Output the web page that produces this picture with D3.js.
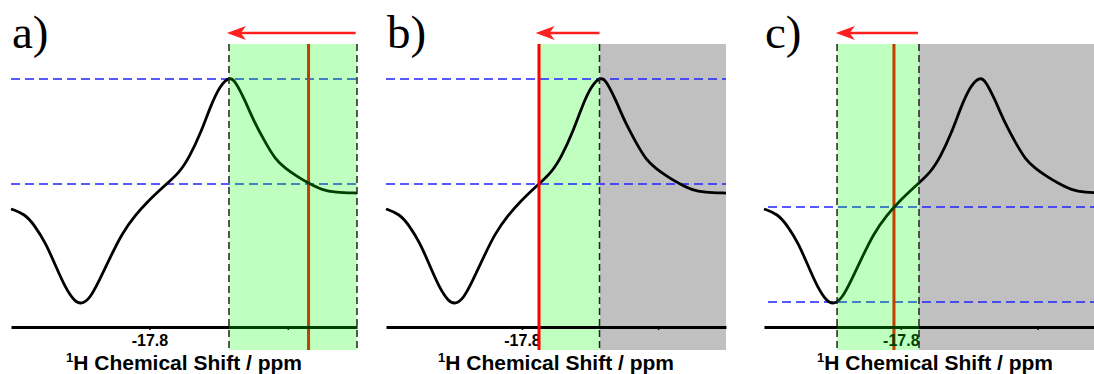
<!DOCTYPE html>
<html>
<head>
<meta charset="utf-8">
<script src="https://cdn.jsdelivr.net/npm/d3@7"></script>
<style>
  html, body { margin: 0; padding: 0; background: #fff; }
  svg { display: block; }
</style>
</head>
<body>
<div id="chart"></div>
<script>
// spectrum trace
const ppm = [-17.700, -17.710, -17.717, -17.725, -17.732, -17.739, -17.746, -17.751, -17.757, -17.764,
  -17.772, -17.780, -17.790, -17.798, -17.810, -17.822, -17.829, -17.837, -17.844, -17.851,
  -17.858, -17.862, -17.869, -17.876, -17.884, -17.891, -17.898, -17.907, -17.915, -17.925,
  -17.934, -17.950]
const intensity = [47.6, 45.6, 41.0, 33.9, 25.0, 16.1, 10.2, 9.2, 11.4, 19.0,
  28.4, 37.6, 45.2, 50.2, 56.5, 62.4, 68.7, 78.1, 88.8, 97.4,
  100.9, 99.2, 91.5, 82.3, 74.2, 67.6, 64.1, 60.6, 58.0, 55.2,
  54.3, 54.0]

const panelLabels = ["a)", "b)", "c)"]
const tickValues = [-17.8, -17.9]
const axisTitle = "Chemical Shift / ppm"

// sliding window per panel (green), excluded region (grey), cursor line, levels
const windowStart = [-17.8575, -17.8125, -17.7534]
const windowEnd = [-17.950, -17.857, -17.8133]
const greyStart = [null, -17.857, -17.8133]
const cursorPpm = [-17.915, -17.8125, -17.795]
const levelHigh = [100, 100, 48.4]
const levelLow = [57.7, 57.7, 10.1]
const arrowFrom = [-17.949, -17.857, -17.8126]
const arrowTo = [-17.856, -17.810, -17.7525]
const edgeLines = [[-17.8575, -17.950], [-17.857], [-17.7534, -17.8133]]

const width = 1094, height = 374
const panelX = [[11, 357], [386, 726], [764, 1106]]
const overlayMode = [true, false, true]
const axisY = 327, shadeTop = 44, shadeBottom = 350, arrowY = 33

const svg = d3.select("#chart").append("svg")
  .attr("width", width).attr("height", height)

const y = d3.scaleLinear().domain([0, 100]).range([axisY, 79])
const xDomain = [-17.70, -17.95]

panelLabels.forEach((label, i) => {
  const x = d3.scaleLinear().domain(xDomain).range(panelX[i])
  const g = svg.append("g")
  const xEnd = panelX[i][1]

  // grey region always sits under the trace
  if (greyStart[i] !== null) {
    g.append("rect")
      .attr("x", x(greyStart[i])).attr("y", shadeTop)
      .attr("width", xEnd - x(greyStart[i]))
      .attr("height", shadeBottom - shadeTop)
      .attr("fill", "#c0c0c0")
  }

  const drawGreen = (over) => {
    g.append("rect")
      .attr("x", x(windowStart[i])).attr("y", shadeTop)
      .attr("width", x(windowEnd[i]) - x(windowStart[i]))
      .attr("height", shadeBottom - shadeTop)
      .attr("fill", over ? "rgba(0,255,0,0.25)" : "#c0ffc0")
  }

  if (!overlayMode[i]) drawGreen(false)

  // blue level lines
  g.selectAll(".level")
    .data([levelHigh[i], levelLow[i]])
    .join("line")
    .attr("x1", panelX[i][0] + (i === 2 ? 4 : 0)).attr("x2", xEnd)
    .attr("y1", d => y(d)).attr("y2", d => y(d))
    .attr("stroke", "#2222ff")
    .attr("stroke-width", 1.5)
    .attr("stroke-dasharray", "9,5")

  const cursor = () => g.append("line")
    .attr("x1", x(cursorPpm[i])).attr("x2", x(cursorPpm[i]))
    .attr("y1", shadeTop).attr("y2", shadeBottom)
    .attr("stroke", "#ff0000")
    .attr("stroke-width", 3)

  if (overlayMode[i]) cursor()

  const line = d3.line()
    .x((d, k) => x(ppm[k]))
    .y(d => y(d))
    .curve(d3.curveBasis)

  g.append("path")
    .datum(intensity)
    .attr("d", line)
    .attr("fill", "none")
    .attr("stroke", "#000")
    .attr("stroke-width", 2.8)
    .attr("stroke-linejoin", "round")

  const axis = g.append("g")
    .attr("transform", `translate(0,${axisY})`)
    .call(d3.axisBottom(x).tickValues(tickValues).tickSize(3).tickSizeOuter(0).tickPadding(5)
      .tickFormat(d => d === -17.8 ? "-17.8" : ""))
  axis.select(".domain").attr("stroke", "#000").attr("stroke-width", 3)
  axis.selectAll(".tick line").attr("stroke", "#000").attr("stroke-width", 1.5)
  axis.selectAll(".tick text")
    .attr("font-family", "'Liberation Sans', Arial, sans-serif")
    .attr("font-weight", "bold")
    .attr("font-size", 16)
    .attr("fill", "#000")

  if (overlayMode[i]) drawGreen(true)
  else cursor()

  // dashed window edges
  g.selectAll(".edge")
    .data(edgeLines[i])
    .join("line")
    .attr("x1", d => x(d)).attr("x2", d => x(d))
    .attr("y1", shadeTop).attr("y2", shadeBottom)
    .attr("stroke", "#222")
    .attr("stroke-width", 1.5)
    .attr("stroke-dasharray", "7,4")

  // arrow showing scan direction
  const tip = x(arrowTo[i]), tail = x(arrowFrom[i])
  g.append("line")
    .attr("x1", tip + 12).attr("x2", tail)
    .attr("y1", arrowY).attr("y2", arrowY)
    .attr("stroke", "#ff2020")
    .attr("stroke-width", 2.5)
  g.append("path")
    .attr("d", `M${tip},${arrowY} L${tip + 19},${arrowY - 7} L${tip + 14},${arrowY} L${tip + 19},${arrowY + 7} Z`)
    .attr("fill", "#ff2020")

  // panel label
  g.append("text")
    .attr("x", panelX[i][0] + 1)
    .attr("y", 48)
    .attr("font-family", "'Liberation Serif', 'DejaVu Serif', serif")
    .attr("font-size", 47)
    .attr("fill", "#000")
    .text(label)

  // axis title
  const title = g.append("text")
    .attr("x", (panelX[i][0] + panelX[i][1]) / 2)
    .attr("y", 370)
    .attr("text-anchor", "middle")
    .attr("font-family", "'Liberation Sans', Arial, sans-serif")
    .attr("font-weight", "bold")
    .attr("font-size", 21)
    .attr("fill", "#000")
  title.append("tspan").attr("font-size", 13).attr("dy", -8).text("1")
  title.append("tspan").attr("dy", 8).text("H " + axisTitle)
})
</script>
</body>
</html>
